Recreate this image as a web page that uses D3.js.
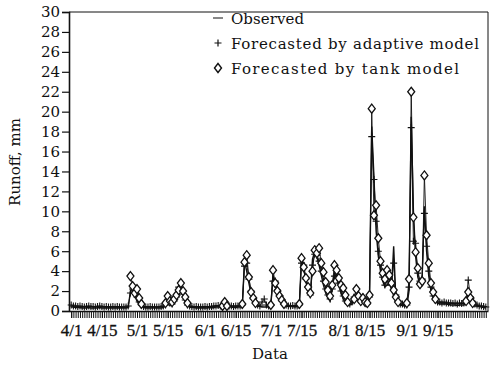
<!DOCTYPE html>
<html>
<head>
<meta charset="utf-8">
<script src="https://cdn.jsdelivr.net/npm/d3@7"></script>
<style>
  body { margin: 0; background: #fff; }
  text { font-family: "DejaVu Serif", "Liberation Serif", serif; fill: #111; }
</style>
</head>
<body>
<svg id="chart" width="490" height="370"></svg>
<script>
// daily runoff (mm), day 0 = 4/1
const observed = [
  0.4,0.4,0.35,0.35,0.35,0.3,0.3,0.3,0.35,0.3,
  0.3,0.3,0.3,0.35,0.3,0.3,0.3,0.3,0.3,0.3,
  0.3,0.3,0.3,0.3,0.3,0.3,0.35,2.0,2.3,1.5,
  1.0,0.7,0.5,0.35,0.3,0.3,0.3,0.3,0.3,0.3,
  0.3,0.3,0.35,0.5,0.8,0.6,0.7,0.9,1.5,2.2,
  2.0,1.5,0.9,0.5,0.4,0.35,0.35,0.3,0.3,0.3,
  0.3,0.3,0.3,0.35,0.3,0.35,0.4,0.4,0.4,0.5,
  0.7,0.5,0.4,0.4,0.35,0.35,0.4,0.4,0.5,5.0,
  4.0,2.8,1.7,1.0,0.6,0.5,0.45,0.4,0.4,0.4,
  0.4,0.5,3.6,2.6,1.8,1.2,0.8,0.6,0.5,0.45,
  0.45,0.45,0.4,0.45,0.5,5.5,4.2,3.0,2.0,1.4,
  5.2,6.0,5.4,4.6,3.6,2.6,1.8,1.3,1.0,2.5,
  3.8,3.3,2.5,1.8,1.2,0.8,0.7,0.6,0.7,1.6,
  1.4,1.0,0.8,1.0,0.8,0.7,1.5,18.5,13.5,8.0,
  5.5,4.0,3.0,2.4,2.6,2.8,2.2,6.5,1.2,0.8,
  0.6,0.55,0.5,0.5,2.0,19.5,10.0,5.5,3.4,2.6,
  3.5,10.5,6.0,3.5,2.0,1.2,0.9,0.8,0.7,0.7,
  0.7,0.7,0.65,0.6,0.6,0.6,0.55,0.6,0.6,0.6,
  0.8,1.6,1.0,0.7,0.5,0.5,0.45,0.4,0.35,0.3
];
const adaptive = [
  0.6,0.5,0.5,0.45,0.5,0.45,0.4,0.45,0.5,0.45,
  0.45,0.4,0.45,0.5,0.45,0.4,0.45,0.4,0.4,0.45,
  0.4,0.45,0.4,0.4,0.4,0.4,0.5,1.8,2.2,1.8,
  1.4,0.9,0.6,0.45,0.4,0.4,0.45,0.4,0.4,0.4,
  0.4,0.45,0.5,0.6,0.9,0.8,0.7,1.0,1.4,2.4,
  2.2,1.7,1.1,0.6,0.5,0.45,0.4,0.45,0.4,0.4,
  0.4,0.45,0.4,0.45,0.45,0.5,0.5,0.55,0.5,0.6,
  0.8,0.6,0.5,0.5,0.45,0.5,0.5,0.5,0.6,4.5,
  4.8,3.2,2.0,1.2,0.8,0.6,0.5,0.9,1.2,0.6,
  0.5,0.6,3.0,3.0,2.1,1.5,1.0,0.7,0.6,0.5,
  0.5,0.55,0.5,0.5,0.6,4.8,4.6,3.2,2.4,1.6,
  4.6,5.7,5.6,5.0,4.0,3.0,2.2,1.6,1.2,2.2,
  3.5,3.6,2.8,2.0,1.5,1.0,0.8,0.7,0.9,1.4,
  1.5,1.1,0.9,1.4,0.9,0.7,1.4,17.5,13.2,9.0,
  6.0,4.6,3.4,2.6,3.0,3.2,2.6,4.8,1.6,1.0,
  0.7,0.7,0.6,0.6,2.4,18.4,7.0,6.8,3.8,3.0,
  3.2,9.8,6.5,4.0,2.4,1.5,1.1,0.9,0.9,0.8,
  0.9,0.8,0.8,0.8,0.75,0.8,0.7,0.8,0.75,0.8,
  1.0,3.1,1.4,0.9,0.7,0.6,0.5,0.5,0.45,0.4
];
// tank model forecasts only plotted around events: [day, value]
const tank = [
  [27,3.5],[28,2.5],[29,1.8],[30,2.2],[31,1.3],[32,0.7],
  [43,0.8],[44,1.5],[45,1.0],[46,0.9],[47,1.2],[48,1.6],[49,2.1],[50,2.8],[51,2.0],[52,1.4],[53,0.8],
  [69,0.5],[70,0.9],[71,0.5],
  [78,0.7],[79,4.9],[80,5.6],[81,3.4],[82,1.9],[83,1.3],[84,0.8],
  [91,0.6],[92,4.1],[93,2.8],[94,2.0],[95,1.5],[96,1.1],[97,0.7],
  [104,0.7],[105,5.3],[106,4.4],[107,3.3],[108,2.4],[109,1.8],
  [110,4.0],[111,6.1],[112,5.8],[113,6.3],[114,4.8],[115,3.9],[116,2.9],[117,2.1],[118,1.5],[119,2.6],
  [120,4.6],[121,4.1],[122,3.3],[123,2.6],[124,2.3],[125,1.6],[126,0.9],
  [129,1.2],[130,2.2],[131,1.5],[132,1.0],[133,1.3],[134,0.9],[135,0.8],[136,1.6],
  [137,20.3],[138,9.6],[139,10.6],[140,7.3],[141,5.0],[142,3.8],[143,3.2],[144,4.1],[145,3.6],[146,2.8],[147,2.1],[148,1.4],[149,0.9],
  [153,0.8],[154,3.2],[155,22.0],[156,9.4],[157,5.9],[158,4.3],[159,2.7],
  [160,3.0],[161,13.6],[162,7.6],[163,4.8],[164,2.8],[165,1.9],[166,1.2],
  [180,1.0],[181,1.9],[182,1.3],[183,0.8]
];
const tickDays = [0,14,30,44,61,75,91,105,122,136,153,167];
const tickLabels = ["4/1","4/15","5/1","5/15","6/1","6/15","7/1","7/15","8/1","8/15","9/1","9/15"];
const yTicks = d3.range(0, 31, 2);
const legendItems = ["Observed", "Forecasted by adaptive model", "Forecasted by tank model"];

const svg = d3.select("#chart");
const x = d3.scaleLinear().domain([-1, 190]).range([69, 488]);
const y = d3.scaleLinear().domain([0, 30]).range([311, 12]);
const ink = "#111";
const serif = '"DejaVu Serif", "Liberation Serif", serif';
const times = '"Liberation Serif", "Times New Roman", serif';

const plusPath = "M-3.5,0H3.5M0,-3.5V3.5";
const diamondPath = "M0,-4.5L3.5,0L0,4.5L-3.5,0Z";

// frame (top + right)
svg.append("path")
  .attr("d", `M${x(-1)},${y(30)}H${x(190)}V${y(0)}`)
  .attr("fill", "none").attr("stroke", ink).attr("stroke-width", 1);

// y axis
const yAxis = svg.append("g")
  .attr("transform", `translate(${x(-1)},0)`)
  .call(d3.axisLeft(y).tickValues(yTicks).tickSize(7).tickPadding(2).tickFormat(d3.format("d")));
yAxis.select(".domain").attr("stroke", ink).attr("stroke-width", 1.6);
yAxis.selectAll(".tick line").attr("stroke", ink).attr("stroke-width", 1.2);
yAxis.selectAll("text").attr("font-size", 15).attr("fill", ink).style("font-family", serif);

// x axis, daily ticks
const xMinor = svg.append("g")
  .attr("transform", `translate(0,${y(0)})`)
  .call(d3.axisBottom(x).tickValues(d3.range(0, 190)).tickSize(7).tickSizeOuter(0).tickFormat(""));
xMinor.select(".domain").attr("stroke", ink).attr("stroke-width", 1.6);
xMinor.selectAll(".tick line").attr("stroke", ink).attr("stroke-width", 1);

const xMajor = svg.append("g")
  .attr("transform", `translate(0,${y(0)})`)
  .call(d3.axisBottom(x).tickValues(tickDays).tickSize(7).tickPadding(6)
    .tickFormat((d, i) => tickLabels[i]));
xMajor.select(".domain").remove();
xMajor.selectAll(".tick line").attr("stroke", ink);
xMajor.selectAll("text").attr("font-size", 17).attr("fill", ink)
  .attr("stroke", ink).attr("stroke-width", 0.3)
  .style("font-family", times);

// axis titles
svg.append("text")
  .attr("x", 270).attr("y", 359)
  .attr("text-anchor", "middle").attr("font-size", 15)
  .text("Data");
svg.append("text")
  .attr("transform", "translate(20,162) rotate(-90)")
  .attr("text-anchor", "middle").attr("font-size", 15)
  .text("Runoff, mm");

// lines
const line = d3.line().x((d, i) => x(i)).y(d => y(d));
const tankLine = d3.line().x(d => x(d[0])).y(d => y(d[1]));

svg.append("path").attr("d", line(observed))
  .attr("fill", "none").attr("stroke", ink).attr("stroke-width", 1.4);
svg.append("path").attr("d", line(adaptive))
  .attr("fill", "none").attr("stroke", ink).attr("stroke-width", 0.9);

// tank line segments (break where days are not consecutive)
const segments = [];
tank.forEach((d, i) => {
  if (i === 0 || d[0] - tank[i - 1][0] > 1) segments.push([]);
  segments[segments.length - 1].push(d);
});
svg.selectAll(".tankline").data(segments).enter().append("path")
  .attr("class", "tankline")
  .attr("d", tankLine)
  .attr("fill", "none").attr("stroke", ink).attr("stroke-width", 0.9);

// markers
svg.selectAll(".plus").data(adaptive).enter().append("path")
  .attr("class", "plus")
  .attr("transform", (d, i) => `translate(${x(i)},${y(d)})`)
  .attr("d", plusPath)
  .attr("stroke", ink).attr("stroke-width", 1.1).attr("fill", "none");

svg.selectAll(".diamond").data(tank).enter().append("path")
  .attr("class", "diamond")
  .attr("transform", d => `translate(${x(d[0])},${y(d[1])})`)
  .attr("d", diamondPath)
  .attr("stroke", ink).attr("stroke-width", 1.3).attr("fill", "#fff");

// legend
const legendY = [18, 43, 68];
const legendW = [73, 248, 228];
const leg = svg.append("g");
leg.append("line").attr("x1", 213).attr("x2", 223).attr("y1", legendY[0]).attr("y2", legendY[0])
  .attr("stroke", ink).attr("stroke-width", 1);
leg.append("path").attr("transform", `translate(218,${legendY[1]})`).attr("d", plusPath)
  .attr("stroke", ink).attr("stroke-width", 1.2).attr("fill", "none");
leg.append("path").attr("transform", `translate(218,${legendY[2]})`).attr("d", diamondPath)
  .attr("stroke", ink).attr("stroke-width", 1.4).attr("fill", "#fff");
leg.selectAll(".lt").data(legendItems).enter().append("text")
  .attr("class", "lt")
  .attr("x", 231).attr("y", (d, i) => legendY[i] + 6)
  .attr("font-size", 15)
  .attr("textLength", (d, i) => legendW[i])
  .attr("lengthAdjust", "spacing")
  .text(d => d);
</script>
</body>
</html>
